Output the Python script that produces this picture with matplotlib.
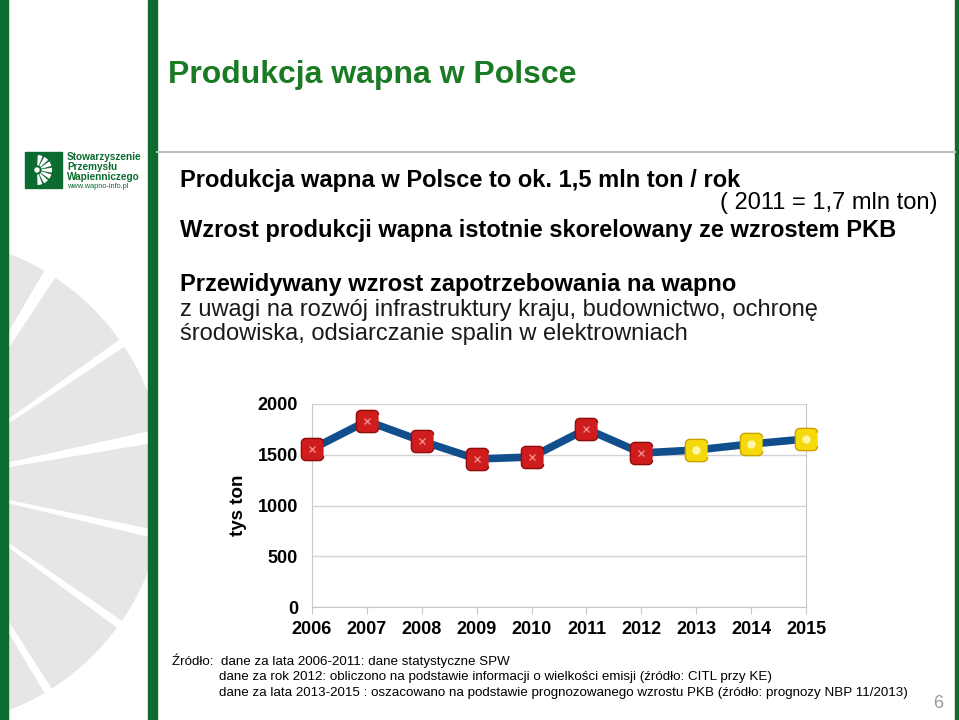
import numpy as np
from matplotlib import pyplot as plt
from matplotlib.patches import Rectangle, Wedge, Circle

# data (tys ton)
years = [2006, 2007, 2008, 2009, 2010, 2011, 2012, 2013, 2014, 2015]
production = [1557, 1832, 1635, 1458, 1478, 1754, 1517, 1547, 1606, 1655]
n_actual = 7  # 2006-2012 red, 2013-2015 yellow (forecast)
y_ticks = [0, 500, 1000, 1500, 2000]

GREEN = '#0b6b30'
TITLE_GREEN = '#1b7a24'
plt.rcParams['font.family'] = ['Liberation Sans', 'DejaVu Sans']

fig = plt.figure(figsize=(9.59, 7.2), dpi=100)

# slide background, pixel coordinates
bg = fig.add_axes([0, 0, 1, 1])
bg.set_xlim(0, 959)
bg.set_ylim(720, 0)
bg.axis('off')

# watermark petals in the left strip
clip = Rectangle((8, 0), 140, 720, transform=bg.transData)
for a in [-82, -58, -35, -11, 12, 35, 58]:
    w = Wedge((-80, 482), 245, a + 1.5, a + 22.5, facecolor='#e6e6e6', edgecolor='none')
    bg.add_patch(w)
    w.set_clip_path(clip)

bg.add_patch(Rectangle((0, 0), 8, 720, color=GREEN))
bg.add_patch(Rectangle((148, 0), 9, 720, color=GREEN))
bg.add_patch(Rectangle((955, 0), 3, 720, color=GREEN))
bg.plot([157, 955], [152, 152], color='#b9c2bd', lw=1.5)

# logo
bg.add_patch(Rectangle((25, 152), 37, 36, color=GREEN))
for a in range(-90, 91, 26):
    bg.add_patch(Wedge((37, 170), 15, a + 3, a + 22, facecolor='white', edgecolor='none'))
bg.add_patch(Circle((37, 170), 4, color=GREEN))
bg.add_patch(Circle((37, 170), 2, color='white'))
for txt, yy in [('Stowarzyszenie', 157), ('Przemysłu', 167), ('Wapienniczego', 177)]:
    bg.text(67, yy, txt, color=GREEN, fontsize=7.2, fontweight='bold', va='center')
bg.text(67, 186, 'www.wapno-info.pl', color=GREEN, fontsize=5.3, va='center')

# texts
fs = 17
bg.text(168, 75, 'Produkcja wapna w Polsce', color=TITLE_GREEN, fontsize=23,
        fontweight='bold', va='center')
bg.text(180, 180, 'Produkcja wapna w Polsce to ok. 1,5 mln ton / rok', fontsize=fs,
        fontweight='bold', va='center')
bg.text(938, 203, '( 2011 = 1,7 mln ton)', fontsize=fs, va='center', ha='right')
bg.text(180, 230, 'Wzrost produkcji wapna istotnie skorelowany ze wzrostem PKB', fontsize=fs,
        fontweight='bold', va='center')
bg.text(180, 285, 'Przewidywany wzrost zapotrzebowania na wapno', fontsize=fs,
        fontweight='bold', va='center')
bg.text(180, 310, 'z uwagi na rozwój infrastruktury kraju, budownictwo, ochronę', fontsize=fs,
        va='center', color='#1a1a1a')
bg.text(180, 334, 'środowiska, odsiarczanie spalin w elektrowniach', fontsize=fs,
        va='center', color='#1a1a1a')

sfs = 9.6
bg.text(172, 661, 'Źródło:  dane za lata 2006-2011: dane statystyczne SPW', fontsize=sfs,
        va='center')
bg.text(219, 677, 'dane za rok 2012: obliczono na podstawie informacji o wielkości emisji '
        '(źródło: CITL przy KE)', fontsize=sfs, va='center')
bg.text(219, 693, 'dane za lata 2013-2015 : oszacowano na podstawie prognozowanego wzrostu PKB '
        '(źródło: prognozy NBP 11/2013)', fontsize=sfs, va='center')
bg.text(938, 703, '6', fontsize=13, color='#9a9a9a', va='center', ha='center')

# chart
ax = fig.add_axes([312 / 959, 113 / 720, 494 / 959, 203 / 720])
ax.set_xlim(2006, 2015)
ax.set_ylim(0, 2000)
ax.set_yticks(y_ticks)
ax.set_xticks(years)
ax.grid(axis='y', color='#d4d4d4', lw=1)
ax.set_axisbelow(True)
ax.spines['top'].set_visible(False)
for s in ['left', 'right', 'bottom']:
    ax.spines[s].set_color('#c8c8c8')
ax.tick_params(axis='y', length=0, pad=10, labelsize=13)
ax.tick_params(axis='x', length=5, color='#c8c8c8', pad=5, labelsize=13)
for lab in ax.get_xticklabels() + ax.get_yticklabels():
    lab.set_fontweight('bold')
ax.set_ylabel('tys ton', fontsize=13.5, fontweight='bold', labelpad=8)

ax.plot(years, production, color='#114f8c', lw=5.5, clip_on=False, zorder=3)

# rounded square marker
r = 0.4
verts = []
for cx, cy, a0 in [(1 - r, 1 - r, 0), (-1 + r, 1 - r, 90), (-1 + r, -1 + r, 180), (1 - r, -1 + r, 270)]:
    for t in np.linspace(a0, a0 + 90, 8):
        verts.append((cx + r * np.cos(np.radians(t)), cy + r * np.sin(np.radians(t))))

ax.plot(years[:n_actual], production[:n_actual], ls='none', marker=verts, ms=16,
        mfc='#cf1c1c', mec='#8e0d0d', mew=1, clip_on=False, zorder=4)
ax.plot(years[:n_actual], production[:n_actual], ls='none', marker='x', ms=5,
        mec='#f08a8a', mew=1, clip_on=False, zorder=5)
ax.plot(years[n_actual:], production[n_actual:], ls='none', marker=verts, ms=16,
        mfc='#f5d90a', mec='#c9a200', mew=1, clip_on=False, zorder=4)
ax.plot(years[n_actual:], production[n_actual:], ls='none', marker='o', ms=6,
        mfc='#fff7a8', mec='none', clip_on=False, zorder=5)

fig.savefig('out.png', dpi=100)
